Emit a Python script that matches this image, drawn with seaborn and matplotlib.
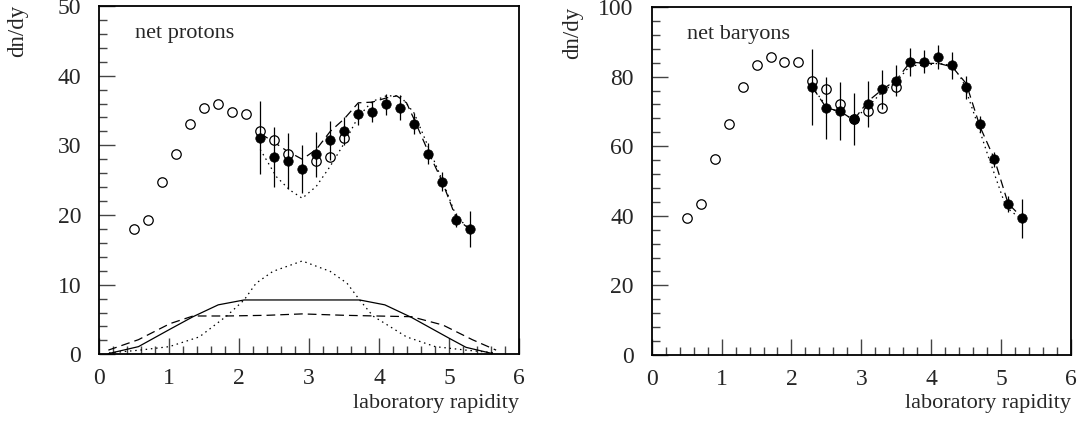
import numpy as np
import pandas as pd
import matplotlib
matplotlib.use("Agg")
import matplotlib.pyplot as plt
from matplotlib.ticker import MultipleLocator
import seaborn as sns

# ---------------- data: net protons ----------------
p_open_y = [0.5, 0.7, 0.9, 1.1, 1.3, 1.5, 1.7, 1.9, 2.1, 2.3, 2.5, 2.7, 3.1, 3.3, 3.5]
p_open_v = [18.0, 19.3, 24.8, 28.8, 33.1, 35.4, 35.9, 34.8, 34.5, 32.0, 30.7, 28.7, 27.8, 28.3, 31.1]
p_full_y = [2.3, 2.5, 2.7, 2.9, 3.1, 3.3, 3.5, 3.7, 3.9, 4.1, 4.3, 4.5, 4.7, 4.9, 5.1, 5.3]
p_full_v = [31.1, 28.3, 27.8, 26.6, 28.7, 30.7, 32.0, 34.5, 34.8, 35.9, 35.4, 33.1, 28.8, 24.8, 19.3, 18.0]
p_full_e = [5.2, 4.3, 4.0, 3.5, 3.2, 2.8, 2.0, 1.6, 1.5, 1.5, 1.8, 1.5, 1.5, 1.4, 1.0, 2.6]

p_dash_y = [2.3, 2.49, 2.68, 2.9, 3.1, 3.3, 3.5, 3.7, 3.9, 4.1, 4.25, 4.39, 4.5, 4.7, 4.9, 5.1, 5.3]
p_dash_v = [31.7, 30.5, 29.2, 28.0, 29.4, 32.0, 33.8, 36.1, 36.2, 36.8, 37.1, 36.1, 33.7, 29.1, 24.8, 19.5, 17.9]
p_dot_y = [2.3, 2.53, 2.72, 2.9, 3.1, 3.3, 3.5, 3.7, 3.9, 4.1, 4.3, 4.5, 4.7, 4.9, 5.1, 5.3]
p_dot_v = [29.4, 25.5, 23.6, 22.4, 24.1, 27.0, 30.3, 34.1, 36.3, 37.1, 37.1, 34.6, 29.8, 25.0, 19.8, 17.9]

low_solid_y = [0.13, 0.56, 1.01, 1.34, 1.70, 2.07, 3.72, 4.08, 4.46, 5.0, 5.24, 5.62]
low_solid_v = [0.1, 1.1, 3.6, 5.4, 7.1, 7.8, 7.8, 7.1, 5.3, 2.3, 1.0, 0.1]
low_dash_y = [0.13, 0.56, 1.01, 1.34, 1.82, 2.4, 2.9, 3.5, 3.96, 4.46, 4.91, 5.33, 5.67]
low_dash_v = [0.6, 2.1, 4.4, 5.5, 5.5, 5.6, 5.8, 5.6, 5.5, 5.4, 4.2, 2.1, 0.6]
low_dot_y = [0.14, 0.58, 1.0, 1.43, 1.82, 2.07, 2.24, 2.48, 2.9, 3.3, 3.54, 3.72, 3.91, 4.39, 4.8, 5.24, 5.67]
low_dot_v = [0.2, 0.6, 1.1, 2.5, 5.5, 7.8, 10.2, 11.9, 13.4, 11.9, 10.2, 7.8, 5.5, 2.5, 1.1, 0.6, 0.2]

# ---------------- data: net baryons ----------------
b_open_y = [0.5, 0.7, 0.9, 1.1, 1.3, 1.5, 1.7, 1.9, 2.1, 2.3, 2.5, 2.7, 2.9, 3.1, 3.3, 3.5]
b_open_v = [39.3, 43.4, 56.2, 66.4, 76.9, 83.2, 85.7, 84.2, 84.2, 78.8, 76.3, 72.2, 67.8, 70.0, 71.0, 76.9]
b_full_y = [2.3, 2.5, 2.7, 2.9, 3.1, 3.3, 3.5, 3.7, 3.9, 4.1, 4.3, 4.5, 4.7, 4.9, 5.1, 5.3]
b_full_v = [76.9, 71.0, 70.0, 67.8, 72.2, 76.3, 78.8, 84.2, 84.2, 85.7, 83.2, 76.9, 66.4, 56.2, 43.4, 39.3]
b_full_e = [10.9, 9.0, 8.3, 7.5, 6.6, 5.6, 4.5, 4.0, 3.3, 3.4, 3.8, 3.2, 2.2, 2.2, 2.3, 5.6]

b_dash_y = [2.3, 2.5, 2.7, 2.85, 2.9, 3.1, 3.3, 3.5, 3.7, 3.9, 4.1, 4.3, 4.5, 4.7, 4.9, 5.1, 5.3]
b_dash_v = [76.9, 71.0, 70.0, 68.0, 67.8, 73.0, 76.3, 79.0, 84.2, 83.8, 83.8, 82.8, 78.0, 65.5, 56.5, 43.5, 39.5]
b_dot_y = [2.3, 2.5, 2.7, 2.9, 3.1, 3.3, 3.5, 3.7, 3.9, 4.1, 4.3, 4.45, 4.63, 4.82, 5.07, 5.27]
b_dot_v = [76.9, 71.5, 69.4, 67.8, 71.5, 75.6, 78.5, 83.2, 83.2, 83.8, 83.2, 78.8, 68.3, 56.8, 42.5, 39.3]

# ---------------- style ----------------
sns.set_theme(style="ticks")
plt.rcParams["font.family"] = ["Liberation Serif", "DejaVu Serif"]
plt.rcParams["axes.linewidth"] = 1.3
plt.rcParams["axes.edgecolor"] = "black"

fig = plt.figure(figsize=(10.86, 4.23), dpi=100)
axL = fig.add_axes([0.0914, 0.1624, 0.3867, 0.8234])
axR = fig.add_axes([0.6001, 0.1608, 0.3861, 0.8227])

msz = 6.8
dash_style = (0, (7, 4))
dot_style = (0, (1.2, 3.0))


def draw(ax, oy, ov, fy, fv, fe, dy, dv, ty, tv):
    sns.scatterplot(x=oy, y=ov, ax=ax, marker="o", s=msz ** 2, facecolor="white",
                    edgecolor="black", linewidth=0.9, zorder=3)
    ax.errorbar(fy, fv, yerr=fe, fmt="none", ecolor="black", elinewidth=0.9,
                capsize=0, zorder=4)
    sns.scatterplot(x=fy, y=fv, ax=ax, marker="o", s=msz ** 2, color="black",
                    edgecolor="black", linewidth=0.5, zorder=5)
    sns.lineplot(x=dy, y=dv, ax=ax, sort=False, color="black", linewidth=0.9,
                 linestyle=dash_style, estimator=None, zorder=2)
    sns.lineplot(x=ty, y=tv, ax=ax, sort=False, color="black", linewidth=0.9,
                 linestyle=dot_style, estimator=None, zorder=2)


draw(axL, p_open_y, p_open_v, p_full_y, p_full_v, p_full_e,
     p_dash_y, p_dash_v, p_dot_y, p_dot_v)
sns.lineplot(x=low_solid_y, y=low_solid_v, ax=axL, sort=False, color="black",
             linewidth=0.9, estimator=None)
sns.lineplot(x=low_dash_y, y=low_dash_v, ax=axL, sort=False, color="black",
             linewidth=0.9, linestyle=dash_style, estimator=None)
sns.lineplot(x=low_dot_y, y=low_dot_v, ax=axL, sort=False, color="black",
             linewidth=0.9, linestyle=dot_style, estimator=None)

draw(axR, b_open_y, b_open_v, b_full_y, b_full_v, b_full_e,
     b_dash_y, b_dash_v, b_dot_y, b_dot_v)

for ax, ymax, ymaj, ymin, label in [(axL, 50, 10, 2, "net protons"),
                                    (axR, 100, 20, 4, "net baryons")]:
    ax.set_xlim(0, 6)
    ax.set_ylim(0, ymax)
    ax.xaxis.set_major_locator(MultipleLocator(1))
    ax.xaxis.set_minor_locator(MultipleLocator(0.2))
    ax.yaxis.set_major_locator(MultipleLocator(ymaj))
    ax.yaxis.set_minor_locator(MultipleLocator(ymin))
    ax.tick_params(which="both", direction="in", top=False, right=False,
                   color="#444444", labelsize=17, width=1.0)
    ax.tick_params(which="major", length=11.5)
    ax.tick_params(which="minor", length=5.8)
    ax.tick_params(axis="x", which="major", pad=10)
    ax.tick_params(axis="y", which="major", pad=13)
    for s in ax.spines.values():
        s.set_visible(True)
        s.set_color("black")
    ax.set_xlabel("")
    ax.set_ylabel("")
    ax.text(0.085, 0.922, label, transform=ax.transAxes, fontsize=16,
            ha="left", va="center")
    ax.text(1.0, -0.14, "laboratory rapidity", transform=ax.transAxes,
            fontsize=16, ha="right", va="center")

axL.text(-0.194, 1.005, "dn/dy", transform=axL.transAxes, fontsize=16.5,
         rotation=90, ha="center", va="top")
axR.text(-0.188, 1.0, "dn/dy", transform=axR.transAxes, fontsize=16.5,
         rotation=90, ha="center", va="top")

fig.savefig("out.png", dpi=100)
